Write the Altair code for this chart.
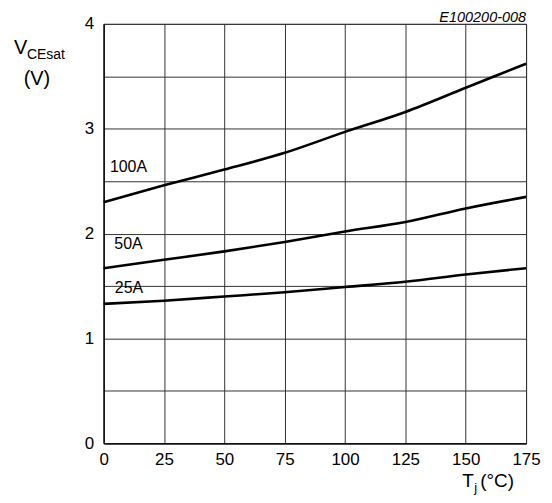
import altair as alt
import pandas as pd

temps = [0, 25, 50, 75, 100, 125, 150, 175]
v_100a = [2.30, 2.46, 2.61, 2.77, 2.97, 3.16, 3.39, 3.62]
v_50a = [1.67, 1.75, 1.83, 1.92, 2.02, 2.11, 2.24, 2.35]
v_25a = [1.33, 1.36, 1.40, 1.44, 1.49, 1.54, 1.61, 1.67]

curve_names = ["100A", "50A", "25A"]
label_x = [10.3, 10.3, 10.5]
label_y = [2.63, 1.90, 1.485]

y_ticks = [0, 0.5, 1, 1.5, 2, 2.5, 3, 3.5, 4]
x_ticks = [0, 25, 50, 75, 100, 125, 150, 175]

FONT = "Liberation Sans"

rows = []
for name, vals in zip(curve_names, [v_100a, v_50a, v_25a]):
    for t, v in zip(temps, vals):
        rows.append({"T": t, "V": v, "curve": name})
df = pd.DataFrame(rows)
lab = pd.DataFrame({"x": label_x, "y": label_y, "t": curve_names})

xs = alt.Scale(domain=[0, 175], nice=False)
ys = alt.Scale(domain=[0, 4], nice=False)

lines = alt.Chart(df).mark_line(color="black", strokeWidth=2.6, interpolate="monotone").encode(
    x=alt.X("T:Q", scale=xs, axis=alt.Axis(values=x_ticks, title=None, grid=True, ticks=False,
                                           labelFlush=False, labelOverlap=False,
                                           labelPadding=8, labelFontSize=17, labelFont=FONT,
                                           labelColor="black", gridColor="#333", gridWidth=1,
                                           domainColor="black", domainWidth=1.2)),
    y=alt.Y("V:Q", scale=ys, axis=alt.Axis(values=y_ticks, title=None, grid=True, ticks=False,
                                           labelFlush=False, labelOverlap=False,
                                           labelExpr="datum.value % 1 == 0 ? format(datum.value, 'd') : ''",
                                           labelPadding=10, labelFontSize=17, labelFont=FONT,
                                           labelColor="black", gridColor="#333", gridWidth=1,
                                           domainColor="black", domainWidth=1.2)),
    detail="curve:N",
)

labels = alt.Chart(lab).mark_text(font=FONT, fontSize=16, color="black", align="center",
                                  baseline="middle").encode(
    x=alt.X("x:Q", scale=xs), y=alt.Y("y:Q", scale=ys), text="t:N")

def txt(s, x, y, size, align="left", style="normal"):
    return alt.Chart(pd.DataFrame({"s": [s]})).mark_text(
        font=FONT, fontSize=size, color="black", align=align, baseline="alphabetic",
        fontStyle=style).encode(x=alt.value(x), y=alt.value(y), text="s:N")

titles = (
    txt("V", -90, 30, 20)
    + txt("CEsat", -77, 35, 14)
    + txt("(V)", -67, 61, 20, align="center")
    + txt("T", 360, 465, 19)
    + txt("j", 372, 470, 13)
    + txt("(°C)", 378, 465, 19)
    + txt("E100200-008", 424, -2, 14.5, align="right", style="italic")
)

chart = (lines + labels + titles).properties(
    width=424, height=421,
    padding={"left": 96, "top": 15, "right": 18, "bottom": 56},
    autosize=alt.AutoSizeParams(type="none"),
).configure_view(stroke="#333", strokeWidth=1)

chart.save("out.html", embed_options={"renderer": "svg", "actions": False})
